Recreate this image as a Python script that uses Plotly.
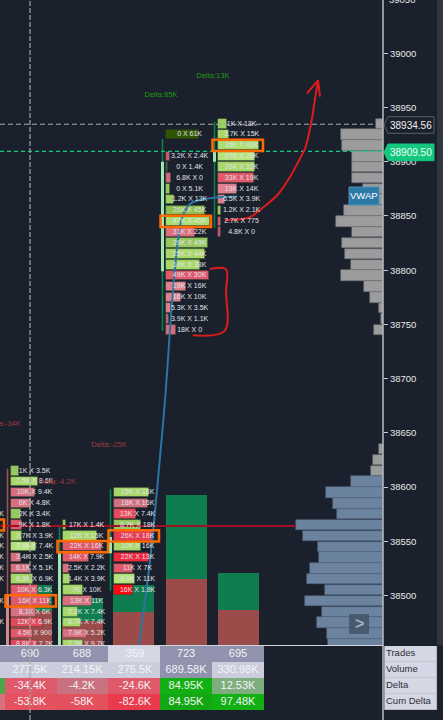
import plotly.graph_objects as go

W, H = 443, 720
BG = "#1a202c"

# ---------- summary table ----------
table_rows = ["Trades", "Volume", "Delta", "Cum Delta"]
trades = ["690", "688", "359", "723", "695"]
volume_k = [277.5, 214.15, 275.5, 689.58, 330.98]
delta_k = [-34.4, -4.2, -24.6, 84.95, 12.53]
cum_delta_k = [-53.8, -58, -82.6, 84.95, 97.48]
volume_labels = ["277.5K", "214.15K", "275.5K", "689.58K", "330.98K"]
delta_labels = ["-34.4K", "-4.2K", "-24.6K", "84.95K", "12.53K"]
cum_delta_labels = ["-53.8K", "-58K", "-82.6K", "84.95K", "97.48K"]

trades_colors = ["#9192ad", "#9192ad", "#d6d7e5", "#9192ad", "#9192ad"]
volume_colors = ["#cccddc", "#cccddc", "#cccddc", "#9192ad", "#cccddc"]
delta_colors = ["#e0596b", "#c9717e", "#e0596b", "#13b013", "#7eae7e"]
cum_colors = ["#e4525f", "#e5505e", "#ea3b4e", "#13a813", "#13b013"]

# ---------- footprint rows, one set per candle ----------
col1_prices = [38615, 38605, 38595, 38585, 38575, 38565, 38555, 38545, 38535, 38525, 38515, 38505, 38495, 38485, 38475, 38465, 38455]
col1_labels = ["1K X 3.5K", "7.5K X 8.6K", "10K X 9.4K", "6K X 4.8K", "2K X 3.4K", "9K X 1.8K", "2.7K X 3.9K", "7.4K X 7.4K", "3.4K X 2.5K", "6.1K X 5.1K", "6.3K X 6.9K", "10K X 6.3K", "16K X 11K", "8.1K X 6K", "12K X 6.9K", "4.5K X 900", "8.8K X 7.2K"]
col1_level = [8, 27, 24, 20, 10, 11, 11, 25, 10, 19, 22, 27, 39, 25, 32, 22, 26]

col2_prices = [38565, 38555, 38545, 38535, 38525, 38515, 38505, 38495, 38485, 38475, 38465, 38455]
col2_labels = ["17K X 1.4K", "12K X 15K", "22K X 16K", "14K X 7.9K", "2.5K X 2.2K", "1.4K X 3.9K", "7K X 10K", "13K X 11K", "5.2K X 7.4K", "6.7K X 7.4K", "7.9K X 5.2K", "7.3K X 9.7K"]
col2_level = [3, 34, 39, 26, 6, 7, 20, 29, 15, 18, 24, 20]

col3_prices = [38595, 38585, 38575, 38565, 38555, 38545, 38535, 38525, 38515, 38505]
col3_labels = ["15K X 18K", "18K X 16K", "13K X 7.4K", "8.7K X 18K", "26K X 18K", "10K X 16K", "22K X 13K", "11K X 7K", "9.1K X 11K", "16K X 1.8K"]
col3_level = [35, 34, 22, 27, 39, 27, 35, 19, 21, 19]

col4_prices = [38925, 38905, 38895, 38885, 38875, 38865, 38855, 38845, 38835, 38825, 38815, 38805, 38795, 38785, 38775, 38765, 38755, 38745]
col4_labels = ["0 X 61K", "3.2K X 2.4K", "0 X 1.4K", "6.8K X 0", "0 X 5.1K", "1.2K X 13K", "26K X 45K", "47K X 45K", "31K X 22K", "29K X 49K", "25K X 44K", "14K X 38K", "49K X 30K", "19K X 16K", "16K X 10K", "5.3K X 3.5K", "3.9K X 1.1K", "18K X 0"]
col4_level = [33, 4, 2, 4.7, 4, 8, 39, 44, 29, 42, 39, 34, 43, 20, 15, 4.7, 3.3, 10]

col5_prices = [38935, 38925, 38915, 38905, 38895, 38885, 38875, 38865, 38855, 38845, 38835]
col5_labels = ["1K X 13K", "3.7K X 15K", "35K X 45K", "27K X 28K", "26K X 32K", "33K X 19K", "19K X 14K", "6.5K X 3.9K", "1.2K X 2.1K", "2.7K X 775", "4.8K X 0"]
col5_level = [9, 11, 41, 37, 37, 36, 19, 7, 2.7, 2.7, 3.3]

col0_prices = [38575, 38555, 38545, 38535, 38525, 38515, 38495, 38475]
col0_labels = ["K", "K", "K", "K", "K", "K", "K", "K"]

# row fills (style, kept apart from the values)
G1, G2, G3 = "#a8d86a", "#98c860", "#b6e47c"
R1, R2, R3 = "#e05a6c", "#d87080", "#ea3a50"
col1_colors = [G2, G1, R2, R2, G2, R1, G1, G3, R2, R2, G1, R1, R1, R2, "#e04a5c", R1, "#e04a5c"]
col2_colors = [G2, G1, R1, R1, R2, G1, G1, R2, G1, G1, R2, G1]
col3_colors = [G1, "#d07080", "#e84a5c", G2, R3, G1, "#f02840", R1, G3, "#ff0a14"]
col4_colors = ["#2f5500", "#c95a6c", "#4a6a40", "#cc6a7c", G2, "#9ccf60", "#8fbf50", "#aade70", "#de7080", G2, G1, G1, R1, "#e0808c", "#e0808c", "#d88090", "#b06a80", "#d86a7a"]
col5_colors = ["#9ccf60", G1, "#aade70", G3, G1, "#e05a6a", "#e08090", "#d8808c", "#9ccf60", "#c06078", "#b85a70"]

# highlighted (orange) rows: price per candle
highlight_prices = [38495, 38545, 38555, 38845, 38915]

# ---------- candles ----------
wick_high = [38617, 38563, 38598, 38921, 38937]
wick_low = [38500, 38539, 38504.4, 38744, 38839]
body_high = [38500, 38539, 38554, 38900, 38909]
body_low = [38440, 38440, 38539, 38799, 38900]
wick_colors = ["#a05050", "#0e7f52", "#0e7f52", "#0e7f52", "#0e7f52"]
body_colors = ["#d48a8a", "#9fe6b4", "#9fe6b4", "#9fe6b4", "#9fe6b4"]

# ---------- volume profile ----------
profile_top_prices = [38935, 38925, 38915, 38905, 38895, 38885, 38875, 38865, 38855, 38845, 38835, 38825, 38815, 38805, 38795, 38785, 38775, 38765, 38755, 38745]
profile_top_values = [7, 42, 41.3, 31.3, 31, 31, 20, 20, 39, 47.3, 31, 41.3, 38, 32.3, 42, 19, 13.3, 4.3, 2, 9]
profile_low_prices = [38635, 38625, 38615]
profile_low_values = [4.3, 10.3, 12.3]
profile_blue_prices = [38605, 38595, 38585, 38575, 38565, 38555, 38545, 38535, 38525, 38515, 38505, 38495, 38485, 38475, 38465, 38455]
profile_blue_values = [32.3, 57, 50, 46.3, 87.3, 80, 65.3, 64.3, 73, 76.3, 58, 78, 61.3, 66, 56.3, 55]

# ---------- levels, drawn annotations and labels ----------
last_price = 38934.56
mark_price = 38909.50
poc_price = 38564

freehand_arrow_x = [225, 240, 250, 262, 278, 290, 300, 305, 311, 315, 318]
freehand_arrow_p = [38846, 38847, 38849, 38857, 38870, 38886, 38903, 38912, 38935, 38958, 38975]
arrow_head_x = [307, 318, 320]
arrow_head_p = [38963, 38975, 38960]
bracket_x = [210, 226, 226, 224.5, 193]
bracket_p = [38801, 38801, 38781, 38744, 38740]
vwap_x = [139, 150, 157, 165, 172, 178, 182, 190, 207, 237]
vwap_p = [38454, 38532, 38597, 38680, 38770, 38828, 38848, 38861, 38866, 38868]

delta_texts = ["Delta:13K", "Delta:85K", "Delta:-25K", "Delta:-4.2K", "Delta:-34K"]
delta_x = [213, 161, 109, 57, 3]
delta_p = [38979, 38961, 38639, 38605, 38658]
delta_text_colors = ["#1f9a10", "#1f9a10", "#a03a42", "#a03a42", "#a03a42"]

# ---------- layout constants (pixels) ----------
col_centers = [31.4, 82.7, 133.9, 186.2, 238.0]
col_starts = [11, 63, 114, 166, 218]
PLOT_R = 383
Y_SPLIT = 645
px_per_unit = 1.0844
p_bottom = 38500 - (Y_SPLIT - 595.5) / px_per_unit
p_top = 38500 + 595.5 / px_per_unit
vol_top = Y_SPLIT / 0.2175

fig = go.Figure()

# volume columns (sell / buy derived from the table's volume and delta)
sell = [(v - d) / 2 for v, d in zip(volume_k, delta_k)]
buy = [v - s for v, s in zip(volume_k, sell)]
fig.add_trace(go.Bar(x=col_centers, y=sell, width=41, marker=dict(color="#9c4b4b", line=dict(width=0)), xaxis="x", yaxis="y"))
fig.add_trace(go.Bar(x=col_centers, y=buy, base=sell, width=41, marker=dict(color="#0e7d50", line=dict(width=0)), xaxis="x", yaxis="y"))

# volume profile
for pr, vals, col, edge in [
    (profile_top_prices, profile_top_values, "#9c9c9c", "#6a6e72"),
    (profile_low_prices, profile_low_values, "#9c9c9c", "#6a6e72"),
    (profile_blue_prices, profile_blue_values, "#6c83a0", "#50627a"),
]:
    fig.add_trace(go.Bar(y=pr, x=vals, base=[PLOT_R - v for v in vals], orientation="h", width=9.6,
                         marker=dict(color=col, line=dict(color=edge, width=0.6)), xaxis="x", yaxis="y2"))

# candles
for i in range(5):
    fig.add_trace(go.Scatter(x=[col_starts[i] - 3.5] * 2, y=[wick_low[i], wick_high[i]], mode="lines",
                             line=dict(color=wick_colors[i], width=1.6), xaxis="x", yaxis="y2"))
    fig.add_trace(go.Scatter(x=[col_starts[i] - 3.5] * 2, y=[body_low[i], body_high[i]], mode="lines",
                             line=dict(color=body_colors[i], width=3), xaxis="x", yaxis="y2"))

# footprint rows
columns = [
    (col1_prices, col1_level, col1_labels, col1_colors),
    (col2_prices, col2_level, col2_labels, col2_colors),
    (col3_prices, col3_level, col3_labels, col3_colors),
    (col4_prices, col4_level, col4_labels, col4_colors),
    (col5_prices, col5_level, col5_labels, col5_colors),
]
for i, (pr, lev, lab, colr) in enumerate(columns):
    fig.add_trace(go.Bar(y=pr, x=lev, base=[col_starts[i]] * len(pr), orientation="h", width=8.8,
                         marker=dict(color=colr, line=dict(color="rgba(40,60,40,0.45)", width=0.8)),
                         xaxis="x", yaxis="y2"))

# lines over the rows
fig.add_trace(go.Scatter(x=[0, PLOT_R], y=[last_price] * 2, mode="lines", line=dict(color="#a8a8a8", width=1.2, dash="5px,3px"), xaxis="x", yaxis="y2"))
fig.add_trace(go.Scatter(x=[0, PLOT_R], y=[mark_price] * 2, mode="lines", line=dict(color="#0fd080", width=1.2, dash="4px,3px"), xaxis="x", yaxis="y2"))
fig.add_trace(go.Scatter(x=[0, 296], y=[poc_price] * 2, mode="lines", line=dict(color="#a01024", width=2), xaxis="x", yaxis="y2"))
fig.add_trace(go.Scatter(x=vwap_x, y=vwap_p, mode="lines", line=dict(color="#2a75a5", width=2, shape="spline"), xaxis="x", yaxis="y2"))
for xs, ps in [(freehand_arrow_x, freehand_arrow_p), (arrow_head_x, arrow_head_p), (bracket_x, bracket_p)]:
    fig.add_trace(go.Scatter(x=xs, y=ps, mode="lines", line=dict(color="#dd1c1c", width=2, shape="spline" if len(xs) > 3 else "linear"), xaxis="x", yaxis="y2"))

# row labels
for i, (pr, lev, lab, colr) in enumerate(columns):
    fig.add_trace(go.Scatter(x=[col_starts[i] + 23.6] * len(pr), y=pr, mode="text", text=lab, textposition="middle center",
                             textfont=dict(family="Liberation Sans", size=7, color="#e2e2e8"), xaxis="x", yaxis="y2"))
fig.add_trace(go.Scatter(x=[4] * len(col0_prices), y=col0_prices, mode="text", text=col0_labels, textposition="middle left",
                         textfont=dict(family="Liberation Sans", size=7, color="#e2e2e8"), xaxis="x", yaxis="y2"))
fig.add_trace(go.Scatter(x=delta_x, y=delta_p, mode="text", text=delta_texts, textposition="middle center",
                         textfont=dict(family="Liberation Sans", size=7.5, color=delta_text_colors), xaxis="x", yaxis="y2"))

# table cells
table_centers = [31.4, 82.5, 133.9, 186.1, 238.3]
row_vals = [(3, trades, trades_colors), (2, volume_labels, volume_colors), (1, delta_labels, delta_colors), (0, cum_delta_labels, cum_colors)]
for base, labs, cols in row_vals:
    fig.add_trace(go.Bar(x=table_centers, y=[1] * 5, base=[base] * 5, width=51.9, marker=dict(color=cols, line=dict(width=0)), xaxis="x2", yaxis="y3"))
# the partly visible column at the left edge
fig.add_trace(go.Bar(x=[-21] * 4, y=[1] * 4, base=[3, 2, 1, 0], width=52, marker=dict(color=["#9192ad", "#cccddc", "#4ca64c", "#d87080"], line=dict(width=0)), xaxis="x2", yaxis="y3"))
# name column
fig.add_trace(go.Bar(x=[411] * 4, y=[1] * 4, base=[3, 2, 1, 0], width=52, marker=dict(color="#d6d7e5", line=dict(color="#c4c5d6", width=0.7)), xaxis="x2", yaxis="y3"))
for base, labs, cols in row_vals:
    fig.add_trace(go.Scatter(x=[30, 82, 135, 186, 238], y=[base + 0.5] * 5, mode="text", text=labs, textposition="middle center",
                             textfont=dict(family="Liberation Sans", size=11, color="#f4f4f8"), xaxis="x2", yaxis="y3"))
fig.add_trace(go.Scatter(x=[386] * 4, y=[3.5, 2.5, 1.5, 0.5], mode="text", text=table_rows, textposition="middle right",
                         textfont=dict(family="Liberation Sans", size=9.5, color="#2a2e38"), xaxis="x2", yaxis="y3"))


def px(x):
    return x / W


def py(y):
    return 1 - y / H


shapes = []
# price panel strip, axis extension, table top rule
shapes.append(dict(type="rect", xref="paper", yref="paper", x0=px(437), x1=1, y0=py(Y_SPLIT), y1=1, fillcolor="#30363e", line_width=0, layer="below"))
shapes.append(dict(type="line", xref="paper", yref="paper", x0=px(PLOT_R), x1=px(PLOT_R), y0=0, y1=1, line=dict(color="#d0d4dc", width=1.3)))
shapes.append(dict(type="line", xref="paper", yref="paper", x0=0, x1=px(PLOT_R), y0=py(645.5), y1=py(645.5), line=dict(color="#d0d4dc", width=1)))
# crosshair
shapes.append(dict(type="line", xref="paper", yref="paper", x0=px(30), x1=px(30), y0=0, y1=1, line=dict(color="rgba(165,165,165,0.8)", width=1.5, dash="5px,2px")))
# orange highlight boxes
for start, p in zip(col_starts, highlight_prices):
    shapes.append(dict(type="rect", xref="x", yref="y2", x0=start - 5.5, x1=start + 45, y0=p - 5.2, y1=p + 5.2, line=dict(color="#ff6a00", width=2.5)))
shapes.append(dict(type="rect", xref="x", yref="y2", x0=-10, x1=4, y0=38560, y1=38570, line=dict(color="#ff6a00", width=2.5)))
# price tags
for ptop, pbot, fill, edge in [(116.7, 133.3, BG, "#5a5f68"), (144, 160.7, "#14c77f", "#14c77f")]:
    mid = (ptop + pbot) / 2
    path = f"M {px(384)} {py(mid)} L {px(388)} {py(ptop)} L {px(434)} {py(ptop)} L {px(434)} {py(pbot)} L {px(388)} {py(pbot)} Z"
    shapes.append(dict(type="path", xref="paper", yref="paper", path=path, fillcolor=fill, line=dict(color=edge, width=1)))
# scroll button
b0, b1, t0, t1 = px(349), px(369), py(614), py(634)
shapes.append(dict(type="rect", xref="paper", yref="paper", x0=b0, x1=b1, y0=t1, y1=t0, fillcolor="rgba(70,86,108,0.9)", line_width=0))
# vwap tag
shapes.append(dict(type="rect", xref="paper", yref="paper", x0=px(349), x1=px(379), y0=py(205), y1=py(187), fillcolor="#2c7aa8", line=dict(color="#4a90b8", width=1)))


def note(x, y, text, size, color, bold=False):
    return dict(xref="paper", yref="paper", x=px(x), y=py(y), xanchor="center", yanchor="middle", text=f"<b>{text}</b>" if bold else text,
                showarrow=False, font=dict(family="Liberation Sans", size=size, color=color))


annotations = [
    note(411, 125, "38934.56", 10, "#f0f0f0"),
    note(411, 152.4, "38909.50", 10, "#f4fff8"),
    note(364, 196, "VWAP", 9.5, "#ffffff"),
    note(359, 623.5, "&#62;", 16, "#a4b0c0", bold=True),
    note(402, -1, "39050", 9.5, "#e8e8e8"),
]

hidden = dict(visible=False, showgrid=False, zeroline=False, fixedrange=True)
fig.update_layout(
    width=W, height=H, autosize=False,
    margin=dict(l=0, r=0, t=0, b=0),
    paper_bgcolor=BG, plot_bgcolor=BG,
    showlegend=False, barmode="overlay", bargap=0,
    font=dict(family="Liberation Sans"),
    xaxis=dict(hidden, domain=[0, PLOT_R / W], range=[0, PLOT_R], anchor="y"),
    xaxis2=dict(hidden, domain=[0, 1], range=[0, W], anchor="y3"),
    yaxis=dict(hidden, domain=[1 - Y_SPLIT / H, 1], range=[0, vol_top], anchor="x"),
    yaxis2=dict(domain=[1 - Y_SPLIT / H, 1], range=[p_bottom, p_top], overlaying="y", side="right", anchor="x",
                tick0=38500, dtick=50, tickformat="d", ticks="outside", ticklen=4, tickcolor="#c8ccd4", tickwidth=1,
                tickfont=dict(family="Liberation Sans", size=9.5, color="#e8e8e8"),
                showgrid=False, zeroline=False, showline=False),
    yaxis3=dict(hidden, domain=[1 - 710 / H, 1 - 646 / H], range=[0, 4], anchor="x2"),
    shapes=shapes, annotations=annotations,
)
fig.update_traces(hoverinfo="skip")
fig.write_html("out.html", config=dict(displayModeBar=False),
               post_script="document.body.style.margin='0';document.body.style.background='#1a202c';")
